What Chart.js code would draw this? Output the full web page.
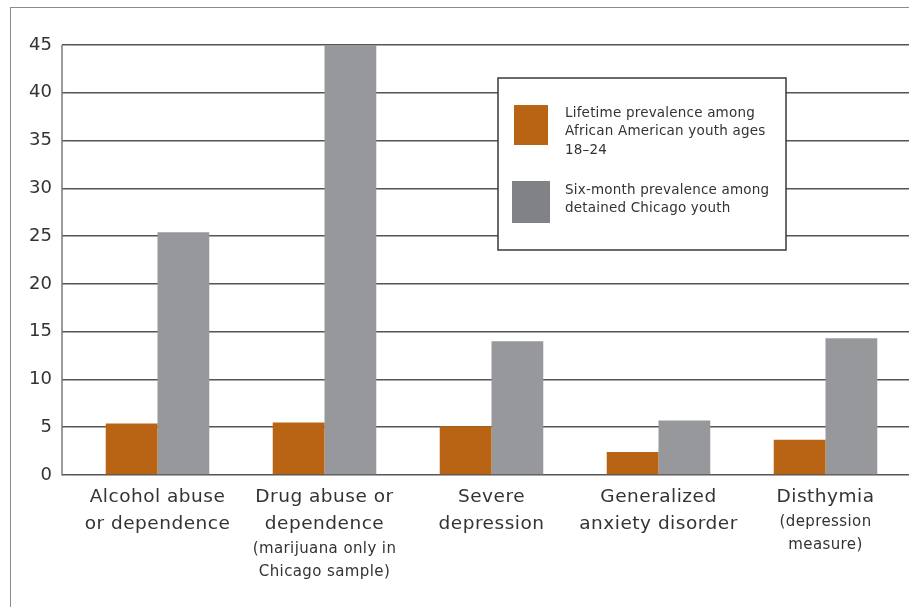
<!DOCTYPE html>
<html>
<head>
<meta charset="utf-8">
<script src="https://cdn.jsdelivr.net/npm/chart.js@4.4.1/dist/chart.umd.min.js"></script>
<style>
  html, body { margin: 0; padding: 0; background: #fff; }
  #wrap { position: relative; width: 909px; height: 607px; }
  #frame { position: absolute; left: 10px; top: 7px; right: 0; bottom: 0;
           border-top: 1.5px solid #8c8c8c; border-left: 1.5px solid #8c8c8c; }
  canvas { position: absolute; left: 0; top: 0; }
</style>
</head>
<body>
<div id="wrap">
  <div id="frame"></div>
  <canvas id="chart" width="909" height="607"></canvas>
</div>
<script>
(function() {
  'use strict';

  var ORANGE = '#b96414';
  var GRAY   = '#97989c';
  var GRAY_SWATCH = '#818286';
  var TEXT   = '#333333';
  var GRID   = '#555555';
  var FONT   = "'DejaVu Sans', sans-serif";

  // categories: main lines + smaller note lines
  var catMain = [
    ['Alcohol abuse', 'or dependence'],
    ['Drug abuse or', 'dependence'],
    ['Severe', 'depression'],
    ['Generalized', 'anxiety disorder'],
    ['Disthymia']
  ];
  var catNote = [
    [],
    ['(marijuana only in', 'Chicago sample)'],
    [],
    [],
    ['(depression', 'measure)']
  ];

  var lifetime  = [5.4, 5.5, 5.1, 2.4, 3.7];
  var sixMonth  = [25.4, 45, 14.0, 5.7, 14.3];

  var legendLabels = [
    ['Lifetime prevalence among', 'African American youth ages', '18\u201324'],
    ['Six-month prevalence among', 'detained Chicago youth']
  ];

  /* eigene Zeichnung: Achslinie, Kategorien, Legende */
  var extras = {
    id: 'extras',
    afterDraw: function(chart) {
      var c = chart.ctx;
      var area = chart.chartArea;
      var xs = chart.scales.x;
      c.save();

      // vertical axis line, left of the tick marks
      c.strokeStyle = '#7a7a7a';
      c.lineWidth = 1.5;
      c.beginPath();
      c.moveTo(area.left - 12, area.top);
      c.lineTo(area.left - 12, area.bottom + 0.5);
      c.stroke();

      // category labels
      c.fillStyle = TEXT;
      c.textAlign = 'center';
      c.textBaseline = 'middle';
      for (var i = 0; i < catMain.length; i++) {
        var x = xs.getPixelForValue(i);
        var y = area.bottom + 22;
        c.font = '18.5px ' + FONT;
        c.letterSpacing = '0.5px';
        for (var j = 0; j < catMain[i].length; j++) {
          c.fillText(catMain[i][j], x, y);
          y += 27;
        }
        y -= 2;
        c.font = '15px ' + FONT;
        c.letterSpacing = '0.4px';
        for (var k = 0; k < catNote[i].length; k++) {
          c.fillText(catNote[i][k], x, y);
          y += 23;
        }
      }

      // legend box
      var bx = 498, by = 78, bw = 288, bh = 172;
      c.fillStyle = '#ffffff';
      c.fillRect(bx, by, bw, bh);
      c.strokeStyle = '#3a3a3a';
      c.lineWidth = 1.5;
      c.strokeRect(bx, by, bw, bh);

      c.fillStyle = ORANGE;
      c.fillRect(514, 105, 34, 40);
      c.fillStyle = GRAY_SWATCH;
      c.fillRect(512, 181, 38, 42);

      c.fillStyle = TEXT;
      c.textAlign = 'left';
      c.font = '13.5px ' + FONT;
      c.letterSpacing = '0.2px';
      var starts = [113, 190];
      for (var m = 0; m < legendLabels.length; m++) {
        for (var n = 0; n < legendLabels[m].length; n++) {
          c.fillText(legendLabels[m][n], 565, starts[m] + n * 18.5);
        }
      }
      c.restore();
    }
  };

  new Chart(document.getElementById('chart'), {
    type: 'bar',
    data: {
      labels: catMain.map(function(l) { return l.join(' '); }),
      datasets: [
        { label: legendLabels[0].join(' '), data: lifetime, backgroundColor: ORANGE },
        { label: legendLabels[1].join(' '), data: sixMonth, backgroundColor: GRAY }
      ]
    },
    options: {
      responsive: false,
      animation: false,
      layout: { padding: { top: 45, right: 0, bottom: 124, left: 0 } },
      datasets: { bar: { categoryPercentage: 0.62, barPercentage: 1.0, borderWidth: 0 } },
      plugins: {
        legend: { display: false },
        tooltip: { enabled: false }
      },
      scales: {
        x: {
          ticks: { display: false },
          grid: { display: false },
          border: { display: false }
        },
        y: {
          min: 0,
          max: 45,
          afterFit: function(scale) { scale.width = 74; },
          ticks: { stepSize: 5, color: TEXT, padding: 10, font: { family: FONT, size: 18 } },
          grid: { color: GRID, lineWidth: 1.5, tickLength: 12, drawTicks: true },
          border: { display: false }
        }
      }
    },
    plugins: [extras]
  });
})();
</script>
</body>
</html>
